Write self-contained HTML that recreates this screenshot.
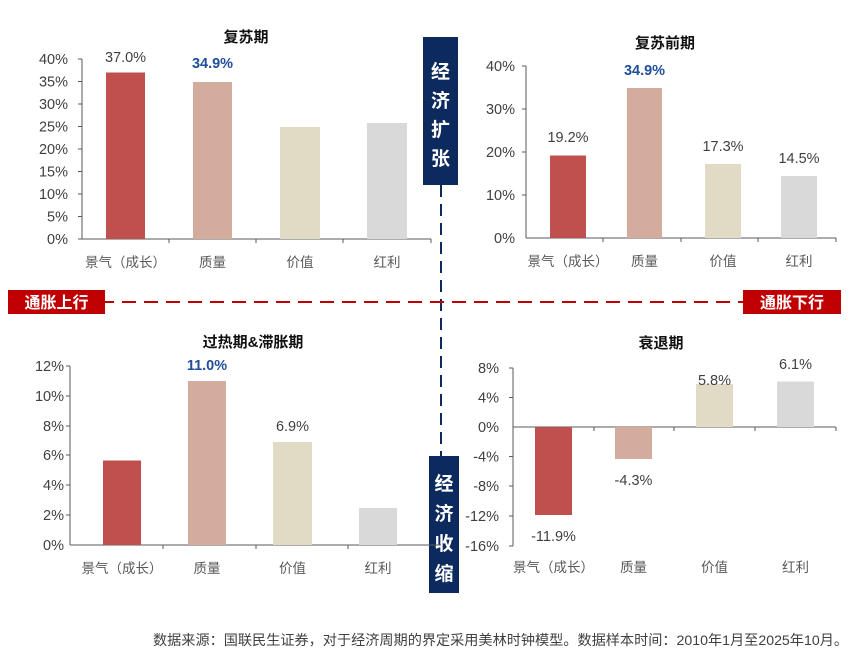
<!DOCTYPE html>
<html><head><meta charset="utf-8"><style>
body{margin:0;background:#fff;}
svg{display:block;font-family:"Liberation Sans","Noto Sans CJK SC",sans-serif;}
.t{font-size:14.5px;fill:#404040;}
.c{font-size:13.5px;fill:#595959;}
.v{font-size:14.5px;fill:#404040;}
.b{font-size:14.5px;fill:#1f4e9a;font-weight:bold;}
.h{font-size:15px;font-weight:bold;fill:#111;}
</style></head><body>
<svg width="865" height="657" viewBox="0 0 865 657">
<line x1="441" y1="185" x2="441" y2="456" stroke="#0d2a5e" stroke-width="2" stroke-dasharray="12,7"/>
<line x1="100" y1="302" x2="745" y2="302" stroke="#c00000" stroke-width="2" stroke-dasharray="14,8"/>
<rect x="8" y="290" width="97" height="24" fill="#c00000"/>
<text x="56.5" y="308" text-anchor="middle" font-size="16" font-weight="bold" fill="#fff">通胀上行</text>
<rect x="743" y="290" width="98" height="24" fill="#c00000"/>
<text x="792" y="308" text-anchor="middle" font-size="16" font-weight="bold" fill="#fff">通胀下行</text>
<rect x="423" y="37" width="35" height="148" fill="#0d2a5e"/>
<g font-size="19" font-weight="bold" fill="#fff" text-anchor="middle">
<text x="440.5" y="78">经</text><text x="440.5" y="107">济</text><text x="440.5" y="136">扩</text><text x="440.5" y="165">张</text>
</g>
<rect x="429" y="456" width="30" height="137" fill="#0d2a5e"/>
<g font-size="19" font-weight="bold" fill="#fff" text-anchor="middle">
<text x="444" y="490">经</text><text x="444" y="520">济</text><text x="444" y="550">收</text><text x="444" y="580">缩</text>
</g>

<!-- Chart 1 -->
<text x="246" y="42" text-anchor="middle" class="h">复苏期</text>
<g stroke="#595959" stroke-width="1">
<line x1="82" y1="59" x2="82" y2="239"/><line x1="82" y1="239" x2="431" y2="239"/>
<line x1="78" y1="59" x2="82" y2="59"/><line x1="78" y1="81.5" x2="82" y2="81.5"/><line x1="78" y1="104" x2="82" y2="104"/><line x1="78" y1="126.5" x2="82" y2="126.5"/><line x1="78" y1="149" x2="82" y2="149"/><line x1="78" y1="171.5" x2="82" y2="171.5"/><line x1="78" y1="194" x2="82" y2="194"/><line x1="78" y1="216.5" x2="82" y2="216.5"/><line x1="78" y1="239" x2="82" y2="239"/>
<line x1="169" y1="239" x2="169" y2="243"/><line x1="256" y1="239" x2="256" y2="243"/><line x1="343" y1="239" x2="343" y2="243"/><line x1="431" y1="239" x2="431" y2="243"/>
</g>
<g class="t" text-anchor="end">
<text x="68" y="64">40%</text><text x="68" y="86.5">35%</text><text x="68" y="109">30%</text><text x="68" y="131.5">25%</text><text x="68" y="154">20%</text><text x="68" y="176.5">15%</text><text x="68" y="199">10%</text><text x="68" y="221.5">5%</text><text x="68" y="244">0%</text>
</g>
<rect x="106" y="72.5" width="39" height="166.5" fill="#c0504d"/>
<rect x="193" y="82" width="39" height="157" fill="#d4ac9e"/>
<rect x="280" y="127" width="40" height="112" fill="#e1dbc5"/>
<rect x="367" y="123" width="40" height="116" fill="#d9d9d9"/>
<text x="125.5" y="62" text-anchor="middle" class="v">37.0%</text>
<text x="212.5" y="68" text-anchor="middle" class="b">34.9%</text>
<g class="c" text-anchor="middle"><text x="125.5" y="267">景气（成长）</text><text x="212.5" y="267">质量</text><text x="300" y="267">价值</text><text x="387" y="267">红利</text></g>

<!-- Chart 2 -->
<text x="665" y="48" text-anchor="middle" class="h">复苏前期</text>
<g stroke="#595959" stroke-width="1">
<line x1="526" y1="66" x2="526" y2="238"/><line x1="526" y1="238" x2="836" y2="238"/>
<line x1="522" y1="66" x2="526" y2="66"/><line x1="522" y1="109" x2="526" y2="109"/><line x1="522" y1="152" x2="526" y2="152"/><line x1="522" y1="195" x2="526" y2="195"/>
<line x1="603" y1="238" x2="603" y2="242"/><line x1="681" y1="238" x2="681" y2="242"/><line x1="758" y1="238" x2="758" y2="242"/><line x1="836" y1="238" x2="836" y2="242"/>
</g>
<g class="t" text-anchor="end"><text x="515" y="71">40%</text><text x="515" y="114">30%</text><text x="515" y="157">20%</text><text x="515" y="200">10%</text><text x="515" y="243">0%</text></g>
<rect x="550" y="155.5" width="36" height="82.5" fill="#c0504d"/>
<rect x="627" y="88" width="35" height="150" fill="#d4ac9e"/>
<rect x="705" y="164" width="36" height="74" fill="#e1dbc5"/>
<rect x="781" y="176" width="36" height="62" fill="#d9d9d9"/>
<text x="568" y="142" text-anchor="middle" class="v">19.2%</text>
<text x="644.5" y="75" text-anchor="middle" class="b">34.9%</text>
<text x="723" y="151" text-anchor="middle" class="v">17.3%</text>
<text x="799" y="163" text-anchor="middle" class="v">14.5%</text>
<g class="c" text-anchor="middle"><text x="568" y="266">景气（成长）</text><text x="644.5" y="266">质量</text><text x="723" y="266">价值</text><text x="799" y="266">红利</text></g>

<!-- Chart 3 -->
<text x="253" y="347" text-anchor="middle" class="h">过热期&amp;滞胀期</text>
<g stroke="#595959" stroke-width="1">
<line x1="70" y1="366" x2="70" y2="545"/><line x1="70" y1="545" x2="441" y2="545"/>
<line x1="66" y1="366" x2="70" y2="366"/><line x1="66" y1="396" x2="70" y2="396"/><line x1="66" y1="426" x2="70" y2="426"/><line x1="66" y1="455" x2="70" y2="455"/><line x1="66" y1="485" x2="70" y2="485"/><line x1="66" y1="515" x2="70" y2="515"/>
<line x1="163" y1="545" x2="163" y2="549"/><line x1="256" y1="545" x2="256" y2="549"/><line x1="348" y1="545" x2="348" y2="549"/>
</g>
<g class="t" text-anchor="end"><text x="64" y="371">12%</text><text x="64" y="401">10%</text><text x="64" y="431">8%</text><text x="64" y="460">6%</text><text x="64" y="490">4%</text><text x="64" y="520">2%</text><text x="64" y="550">0%</text></g>
<rect x="103" y="460.5" width="38" height="84.5" fill="#c0504d"/>
<rect x="188" y="381" width="38" height="164" fill="#d4ac9e"/>
<rect x="273" y="442" width="39" height="103" fill="#e1dbc5"/>
<rect x="359" y="508" width="38" height="37" fill="#d9d9d9"/>
<text x="207" y="370" text-anchor="middle" class="b">11.0%</text>
<text x="292.5" y="431" text-anchor="middle" class="v">6.9%</text>
<g class="c" text-anchor="middle"><text x="122" y="573">景气（成长）</text><text x="207" y="573">质量</text><text x="292.5" y="573">价值</text><text x="378" y="573">红利</text></g>

<!-- Chart 4 -->
<text x="661" y="348" text-anchor="middle" class="h">衰退期</text>
<g stroke="#595959" stroke-width="1">
<line x1="513" y1="368" x2="513" y2="546"/><line x1="513" y1="427" x2="836" y2="427"/>
<line x1="509" y1="368" x2="513" y2="368"/><line x1="509" y1="397.5" x2="513" y2="397.5"/><line x1="509" y1="456.5" x2="513" y2="456.5"/><line x1="509" y1="486" x2="513" y2="486"/><line x1="509" y1="516" x2="513" y2="516"/><line x1="509" y1="546" x2="513" y2="546"/>
<line x1="594" y1="427" x2="594" y2="431"/><line x1="674" y1="427" x2="674" y2="431"/><line x1="755" y1="427" x2="755" y2="431"/><line x1="836" y1="427" x2="836" y2="431"/>
</g>
<g class="t" text-anchor="end"><text x="499" y="373">8%</text><text x="499" y="402.5">4%</text><text x="499" y="432">0%</text><text x="499" y="461.5">-4%</text><text x="499" y="491">-8%</text><text x="499" y="521">-12%</text><text x="499" y="551">-16%</text></g>
<rect x="535" y="427" width="37" height="88" fill="#c0504d"/>
<rect x="615" y="427" width="37" height="32" fill="#d4ac9e"/>
<rect x="696" y="384" width="37" height="43" fill="#e1dbc5"/>
<rect x="777" y="381.5" width="37" height="45.5" fill="#d9d9d9"/>
<text x="553.5" y="541" text-anchor="middle" class="v">-11.9%</text>
<text x="633.5" y="485" text-anchor="middle" class="v">-4.3%</text>
<text x="714.5" y="385" text-anchor="middle" class="v">5.8%</text>
<text x="795.5" y="369" text-anchor="middle" class="v">6.1%</text>
<g class="c" text-anchor="middle"><text x="553.5" y="572">景气（成长）</text><text x="633.5" y="572">质量</text><text x="714.5" y="572">价值</text><text x="795.5" y="572">红利</text></g>

<text x="848" y="645" text-anchor="end" font-size="14" fill="#404040" textLength="695" lengthAdjust="spacingAndGlyphs">数据来源：国联民生证券，对于经济周期的界定采用美林时钟模型。数据样本时间：2010年1月至2025年10月。</text>
</svg>
</body></html>
